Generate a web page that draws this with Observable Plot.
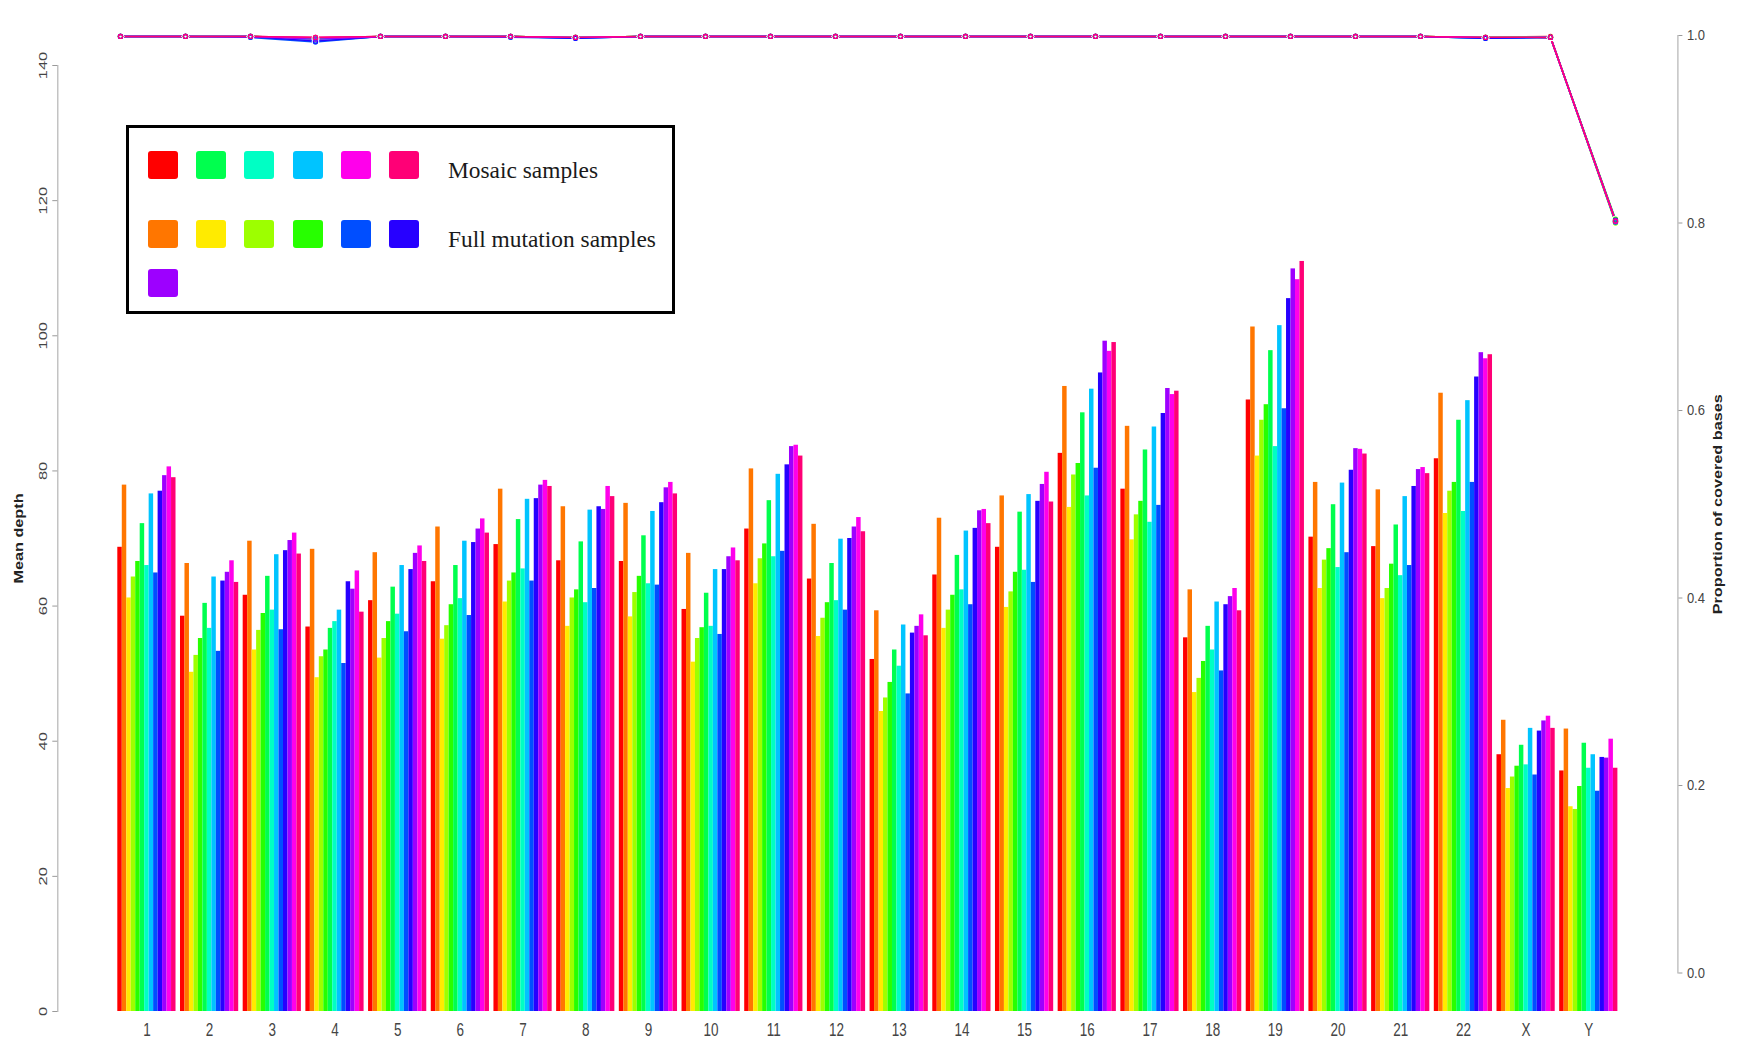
<!DOCTYPE html>
<html>
<head>
<meta charset="utf-8">
<script src="https://cdn.jsdelivr.net/npm/d3@7"></script>
<script src="https://cdn.jsdelivr.net/npm/@observablehq/plot@0.6"></script>
<style>
  html, body { margin: 0; padding: 0; background: #fff; overflow: hidden; }
  #chart { position: relative; width: 1742px; height: 1049px; }
  #chart svg { position: absolute; left: 0; top: 0; }
  .legend { position: absolute; box-sizing: border-box; border: 3px solid #000; background: #fff; }
  .legend .sw { position: absolute; width: 30px; height: 28px; border-radius: 3px; }
  .legend .lab { position: absolute; font-family: "Liberation Serif", "Times New Roman", serif; font-size: 23.4px; color: #1a1a1a; line-height: 1; white-space: nowrap; }
</style>
</head>
<body>
<div id="chart"></div>
<script>
// ---------- data ----------
const chromosomes = ["1","2","3","4","5","6","7","8","9","10","11","12","13","14","15","16","17","18","19","20","21","22","X","Y"];
const sampleNames = ["S01","S02","S03","S04","S05","S06","S07","S08","S09","S10","S11","S12","S13"];
const sampleColors = ["#FF0000","#FF7600","#FFEB00","#9DFF00","#27FF00","#00FF4E","#00FFC4","#00C4FF","#004EFF","#2700FF","#9D00FF","#FF00EB","#FF0076"];
const mosaicSamples = ["S01","S06","S07","S08","S12","S13"];
const fullMutationSamples = ["S02","S03","S04","S05","S09","S10","S11"];
const legendLabels = ["Mosaic samples", "Full mutation samples"];
const depthTicks = [0, 20, 40, 60, 80, 100, 120, 140];
const coverageTicks = [0, 0.2, 0.4, 0.6, 0.8, 1.0];

// mean depth per sample, by chromosome (1..22, X, Y)
const depthS01 = [68.7,58.5,61.6,56.9,60.8,63.6,69.1,66.7,66.6,59.5,71.4,64.0,52.1,64.6,68.7,82.6,77.3,55.3,90.5,70.2,68.8,81.8,38.0,35.6];
const depthS02 = [77.9,66.3,69.6,68.4,67.9,71.7,77.3,74.7,75.2,67.8,80.3,72.1,59.3,73.0,76.3,92.5,86.6,62.4,101.3,78.3,77.2,91.5,43.1,41.8];
const depthS03 = [61.2,50.2,53.5,49.4,52.3,55.1,60.6,57.0,58.4,51.7,63.3,55.5,44.4,56.7,59.8,74.6,69.8,47.2,82.2,62.6,61.1,73.7,33.0,30.3];
const depthS04 = [64.3,52.7,56.4,52.5,55.2,57.1,63.7,61.2,62.0,55.2,67.0,58.2,46.4,59.4,62.1,79.4,73.5,49.3,87.5,66.8,62.6,77.0,34.7,29.9];
const depthS05 = [66.6,55.2,58.9,53.5,57.7,60.2,64.9,62.4,64.4,56.8,69.2,60.5,48.7,61.6,65.0,81.1,75.5,51.8,89.8,68.5,66.2,78.3,36.3,33.3];
const depthS06 = [72.2,60.4,64.4,56.7,62.8,66.0,72.8,69.5,70.4,61.9,75.6,66.3,53.5,67.5,73.9,88.6,83.1,57.0,97.8,75.0,72.0,87.5,39.4,39.7];
const depthS07 = [66.0,56.7,59.4,57.7,58.8,61.1,65.5,60.5,63.3,57.0,67.3,60.8,51.1,62.4,65.3,76.3,72.4,53.5,83.6,65.7,64.5,74.0,36.5,36.0];
const depthS08 = [76.6,64.3,67.6,59.4,66.0,69.6,75.8,74.2,74.0,65.4,79.5,69.9,57.2,71.1,76.5,92.1,86.5,60.6,101.5,78.2,76.2,90.4,41.9,38.0];
const depthS09 = [64.9,53.3,56.5,51.5,56.2,58.6,63.7,62.6,63.1,55.8,68.1,59.4,47.0,60.2,63.5,80.4,74.9,50.4,89.2,67.9,66.0,78.3,35.0,32.6];
const depthS10 = [77.0,63.7,68.2,63.6,65.4,69.4,75.9,74.7,75.3,65.4,80.9,70.0,56.0,71.5,75.5,94.5,88.5,60.2,105.5,80.1,77.7,93.9,41.5,37.6];
const depthS11 = [79.3,65.0,69.7,62.5,67.8,71.4,77.9,74.3,77.5,67.3,83.6,71.7,57.0,74.1,78.0,99.2,92.2,61.4,109.9,83.3,80.2,97.5,43.0,37.5];
const depthS12 = [80.6,66.7,70.8,65.2,68.9,72.9,78.6,77.7,78.3,68.6,83.8,73.1,58.7,74.3,79.8,97.7,91.3,62.6,108.3,83.2,80.5,96.6,43.7,40.3];
const depthS13 = [79.0,63.5,67.7,59.1,66.6,70.8,77.7,76.2,76.6,66.7,82.2,71.0,55.6,72.2,75.4,99.0,91.8,59.3,111.0,82.5,79.6,97.2,41.9,36.0];

// proportion of covered bases per sample, by chromosome
const covS01 = [0.999,0.999,0.999,0.998,0.999,0.999,0.999,0.998,0.999,0.999,0.999,0.999,0.999,0.999,0.999,0.999,0.999,0.999,0.999,0.999,0.999,0.998,0.999,0.801];
const covS02 = [0.999,0.999,0.999,0.997,0.999,0.999,0.999,0.998,0.999,0.999,0.999,0.999,0.999,0.999,0.999,0.999,0.999,0.999,0.999,0.999,0.999,0.998,0.998,0.803];
const covS03 = [0.999,0.999,0.999,0.996,0.999,0.999,0.999,0.998,0.999,0.999,0.999,0.999,0.999,0.999,0.999,0.999,0.999,0.999,0.999,0.999,0.999,0.998,0.998,0.802];
const covS04 = [0.999,0.999,0.999,0.996,0.999,0.999,0.999,0.998,0.999,0.999,0.999,0.999,0.999,0.999,0.999,0.999,0.999,0.999,0.999,0.999,0.999,0.998,0.998,0.800];
const covS05 = [0.999,0.999,0.999,0.997,0.999,0.999,0.999,0.998,0.999,0.999,0.999,0.999,0.999,0.999,0.999,0.999,0.999,0.999,0.999,0.999,0.999,0.998,0.998,0.804];
const covS06 = [0.999,0.999,0.999,0.997,0.999,0.999,0.999,0.998,0.999,0.999,0.999,0.999,0.999,0.999,0.999,0.999,0.999,0.999,0.999,0.999,0.999,0.998,0.998,0.802];
const covS07 = [0.999,0.999,0.999,0.995,0.999,0.999,0.999,0.998,0.999,0.999,0.999,0.999,0.999,0.999,0.999,0.999,0.999,0.999,0.999,0.999,0.999,0.997,0.998,0.801];
const covS08 = [0.999,0.999,0.999,0.994,0.999,0.999,0.999,0.997,0.999,0.999,0.999,0.999,0.999,0.999,0.999,0.999,0.999,0.999,0.999,0.999,0.999,0.997,0.998,0.802];
const covS09 = [0.999,0.999,0.998,0.993,0.999,0.999,0.998,0.997,0.999,0.999,0.999,0.999,0.999,0.999,0.999,0.999,0.999,0.999,0.999,0.999,0.999,0.997,0.998,0.801];
const covS10 = [0.999,0.999,0.999,0.994,0.999,0.999,0.999,0.997,0.999,0.999,0.999,0.999,0.999,0.999,0.999,0.999,0.999,0.999,0.999,0.999,0.999,0.997,0.998,0.803];
const covS11 = [0.999,0.999,0.999,0.996,0.999,0.999,0.999,0.998,0.999,0.999,0.999,0.999,0.999,0.999,0.999,0.999,0.999,0.999,0.999,0.999,0.999,0.998,0.998,0.802];
const covS12 = [0.999,0.999,0.999,0.998,0.999,0.999,0.999,0.998,0.999,0.999,0.999,0.999,0.999,0.999,0.999,0.999,0.999,0.999,0.999,0.999,0.999,0.998,0.998,0.802];
const covS13 = [0.999,0.999,0.999,0.998,0.999,0.999,0.999,0.998,0.999,0.999,0.999,0.999,0.999,0.999,0.999,0.999,0.999,0.999,0.999,0.999,0.999,0.998,0.998,0.802];

const depthBySample = [depthS01,depthS02,depthS03,depthS04,depthS05,depthS06,depthS07,depthS08,depthS09,depthS10,depthS11,depthS12,depthS13];
const covBySample = [covS01,covS02,covS03,covS04,covS05,covS06,covS07,covS08,covS09,covS10,covS11,covS12,covS13];

// ---------- tables (R barplot layout: bars of width 1, one empty slot before each group) ----------
const nS = sampleNames.length, slot = nS + 1;
const depthRows = [];
sampleNames.forEach((s, si) => chromosomes.forEach((c, ci) => {
  depthRows.push({sample: s, chrom: c, depth: depthBySample[si][ci], x1: ci * slot + si + 1, x2: ci * slot + si + 2});
}));
const covRows = [];
sampleNames.forEach((s, si) => chromosomes.forEach((c, ci) => {
  covRows.push({sample: s, chrom: c, cov: covBySample[si][ci]});
}));
const barLo = 1, barHi = chromosomes.length * slot;          // extent of the bars
const pad = (barHi - barLo) * 0.04;                           // R's 4% axis expansion
const groupCenters = chromosomes.map((c, ci) => ci * slot + (nS + 1) / 2 + 0.5);

const W = 1742, H = 1049;
const color = {domain: sampleNames, range: sampleColors};
const FONT = "'Liberation Sans', Arial, Helvetica, sans-serif";

// ---------- bar plot ----------
const mL = 57.3, mR = 64.6;
const barPlot = Plot.plot({
  width: W, height: H,
  marginLeft: mL, marginRight: mR, marginTop: 65, marginBottom: 38,
  style: {fontFamily: FONT, color: "#444", background: "transparent"},
  x: {type: "linear", domain: [barLo - pad, barHi + pad], axis: null},
  y: {domain: [0, 140], axis: null},
  color,
  marks: [
    Plot.rect(depthRows, {x1: "x1", x2: "x2", y1: () => 0, y2: "depth", fill: "sample"}),
    Plot.frame({anchor: "left", stroke: "#b4b4b4", strokeWidth: 1.2}),
    Plot.axisY({ticks: depthTicks, tickSize: 5, tickPadding: 6, tickRotate: -90, stroke: "#9a9a9a",
      label: "Mean depth", labelAnchor: "center", labelOffset: 44, labelArrow: false}),
    Plot.axisX(groupCenters, {tickSize: 0, tickPadding: 12, tickFormat: (d) => chromosomes[Math.round((d - 7.5) / slot)], label: null})
  ]
});

// ---------- coverage lines (second y scale, right) ----------
const xLeft = mL + (barLo - (barLo - pad)) / ((barHi + pad) - (barLo - pad)) * (W - mL - mR);
const xRight = mL + (barHi - (barLo - pad)) / ((barHi + pad) - (barLo - pad)) * (W - mL - mR);
const linePlot = Plot.plot({
  width: W, height: H,
  marginLeft: mL, marginRight: mR, marginTop: 35, marginBottom: 76.5,
  style: {fontFamily: FONT, color: "#444", background: "transparent", overflow: "visible"},
  x: {type: "point", domain: chromosomes, range: [xLeft, xRight], padding: 0, axis: null},
  y: {domain: [0, 1], axis: null},
  color,
  marks: [
    Plot.frame({anchor: "right", stroke: "#b4b4b4", strokeWidth: 1.2}),
    Plot.axisY({anchor: "right", ticks: coverageTicks, tickFormat: ".1f", tickSize: 4, tickPadding: 5, stroke: "#9a9a9a",
      label: "Proportion of covered bases", labelAnchor: "center", labelOffset: 44, labelArrow: false}),
    Plot.line(covRows, {x: "chrom", y: "cov", z: "sample", stroke: "sample", strokeWidth: 1.5}),
    Plot.dot(covRows, {x: "chrom", y: "cov", r: 3.6, fill: "white", stroke: null}),
    Plot.dot(covRows, {x: "chrom", y: "cov", r: 2.1, fill: "none", stroke: "sample", strokeWidth: 1.1})
  ]
});

// ---------- text styling (stretched R-style glyphs) ----------
function stretch(svg, selector, sx, sy, size, weight, fill) {
  d3.select(svg).selectAll(selector).each(function () {
    const t = d3.select(this);
    const tr = t.attr("transform") || "";
    t.attr("transform", (tr + ` scale(${sx},${sy})`).trim());
    if (size) t.attr("font-size", size);
    if (weight) t.attr("font-weight", weight);
    if (fill) t.attr("fill", fill);
  });
}
stretch(barPlot, 'g[aria-label="y-axis tick label"] text', 1.65, 1, 10, null, "#444");
stretch(barPlot, 'g[aria-label="x-axis tick label"] text', 1, 1.3, 13.5, null, "#444");
stretch(barPlot, 'g[aria-label="y-axis label"] text', 1.3, 1, 12.5, "bold", "#222");
stretch(linePlot, 'g[aria-label="y-axis tick label"] text', 1, 1.17, 13, null, "#444");
stretch(linePlot, 'g[aria-label="y-axis label"] text', 1.3, 1, 12.5, "bold", "#222");

const chart = document.getElementById("chart");
chart.appendChild(barPlot);
chart.appendChild(linePlot);

// ---------- legend ----------
const legend = d3.select(chart).append("div").attr("class", "legend")
  .style("left", "126px").style("top", "125px").style("width", "549px").style("height", "189px");
const colorOf = (s) => sampleColors[sampleNames.indexOf(s)];
const legendSwatches = [
  ...mosaicSamples.map((s, i) => ({s, row: 0, col: i})),
  ...fullMutationSamples.map((s, i) => ({s, row: i < 6 ? 1 : 2, col: i % 6}))
];
const rowTop = [23, 92, 141];
legend.selectAll(".sw").data(legendSwatches).join("div").attr("class", "sw")
  .style("left", d => (19 + d.col * 48.2) + "px")
  .style("top", d => rowTop[d.row] + "px")
  .style("background", d => colorOf(d.s));
legend.selectAll(".lab").data(legendLabels).join("div").attr("class", "lab")
  .style("left", "319px")
  .style("top", (d, i) => (i === 0 ? 31 : 100) + "px")
  .text(d => d);
</script>
</body>
</html>
